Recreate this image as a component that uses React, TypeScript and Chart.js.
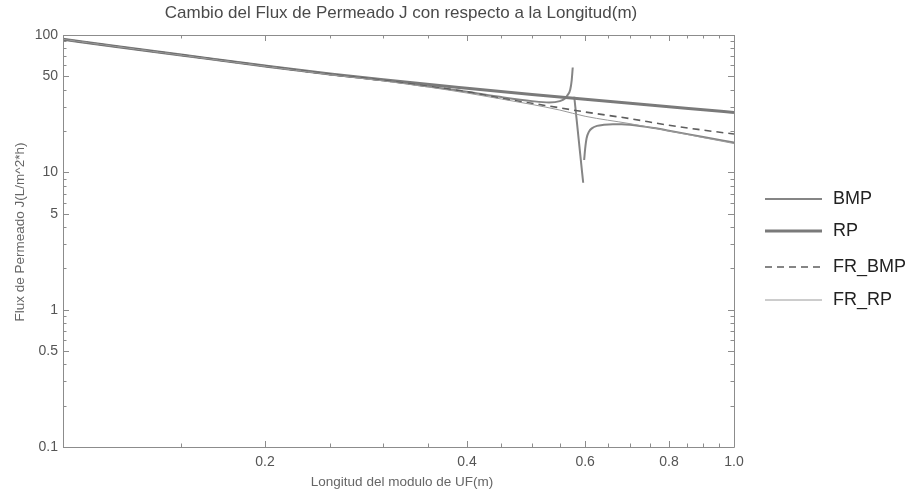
import React, { useEffect, useRef } from "react";
import { Chart, registerables } from "chart.js";

Chart.register(...registerables);

// ---- Data ----
const titleText = "Cambio del Flux de Permeado J con respecto a la Longitud(m)";
const xTitle = "Longitud del modulo de UF(m)";
const yTitle = "Flux de Permeado J(L/m^2*h)";

const seriesNames = ["BMP", "RP", "FR_BMP", "FR_RP"];

// BMP: three branches around the singularity near x ≈ 0.58
const bmpX1 = [0.1, 0.12, 0.15, 0.2, 0.25, 0.3, 0.35, 0.4, 0.45, 0.5, 0.53, 0.55, 0.56, 0.565, 0.57, 0.573, 0.575];
const bmpY1 = [93, 82.5, 71.5, 59.4, 51.8, 46.8, 42.3, 38.6, 35.3, 33.0, 32.3, 33.0, 34.5, 36.5, 40, 47, 58];
const bmpX2 = [0.578, 0.584, 0.59, 0.596];
const bmpY2 = [35.5, 21.9, 13.5, 8.4];
const bmpX3 = [0.598, 0.6, 0.603, 0.608, 0.614, 0.625, 0.64, 0.66, 0.68, 0.7, 0.76, 0.8, 0.9, 1.0];
const bmpY3 = [12.3, 14.8, 17.7, 19.8, 20.9, 21.8, 22.2, 22.4, 22.4, 22.2, 21.0, 20.1, 18.1, 16.5];

const rpX = [0.1, 0.12, 0.15, 0.2, 0.25, 0.3, 0.4, 0.5, 0.6, 0.7, 0.8, 0.9, 1.0];
const rpY = [93, 82.5, 71.5, 59.5, 52, 47.2, 41, 36.9, 34, 31.8, 30, 28.6, 27.3];

const frX = [0.1, 0.12, 0.15, 0.2, 0.25, 0.3, 0.35, 0.4, 0.45, 0.5, 0.55, 0.6, 0.7, 0.8, 0.9, 1.0];
const frBmpY = [93, 82.5, 71.5, 59.4, 51.7, 46.7, 42.3, 38.6, 34.6, 31.8, 29.5, 27.5, 24.6, 22.0, 20.3, 19.0];
const frRpY = [93, 82.4, 71.3, 59.2, 51.4, 46.3, 41.8, 37.8, 34.2, 31.2, 28.4, 25.6, 22.6, 20.0, 17.9, 16.2];

const xMajorTicks = [0.2, 0.4, 0.6, 0.8, 1.0];
const xMinorTicks = [0.1, 0.15, 0.25, 0.3, 0.35, 0.45, 0.5, 0.55, 0.65, 0.7, 0.75, 0.85, 0.9, 0.95];
const yMajorTicks = [0.1, 0.5, 1, 5, 10, 50, 100];
const yMinorTicks = [0.2, 0.3, 0.4, 0.6, 0.7, 0.8, 0.9, 2, 3, 4, 6, 7, 8, 9, 20, 30, 40, 60, 70, 80, 90];

const FONT = '"Liberation Sans", Arial, sans-serif';

function pts(xs: number[], ys: number[]) {
  return xs.map((x, i) => ({ x, y: ys[i] }));
}

const framePlugin = {
  id: "framePlugin",
  afterDraw(chart: any) {
    const { ctx, chartArea, scales } = chart;
    const { left, right, top, bottom } = chartArea;
    const xs = scales.x;
    const ys = scales.y;
    ctx.save();
    // frame
    ctx.strokeStyle = "#8c8c8c";
    ctx.lineWidth = 1;
    ctx.beginPath();
    ctx.rect(Math.round(left) + 0.5, Math.round(top) + 0.5, Math.round(right - left), Math.round(bottom - top));
    ctx.stroke();
    // ticks
    const drawX = (v: number, len: number) => {
      const px = Math.round(xs.getPixelForValue(v)) + 0.5;
      ctx.beginPath();
      ctx.moveTo(px, bottom);
      ctx.lineTo(px, bottom - len);
      ctx.moveTo(px, top);
      ctx.lineTo(px, top + len);
      ctx.stroke();
    };
    const drawY = (v: number, len: number) => {
      const py = Math.round(ys.getPixelForValue(v)) + 0.5;
      ctx.beginPath();
      ctx.moveTo(left, py);
      ctx.lineTo(left + len, py);
      ctx.moveTo(right, py);
      ctx.lineTo(right - len, py);
      ctx.stroke();
    };
    xMajorTicks.forEach((v) => drawX(v, 6));
    xMinorTicks.forEach((v) => drawX(v, 3.5));
    yMajorTicks.forEach((v) => drawY(v, 6));
    yMinorTicks.forEach((v) => drawY(v, 3.5));

    // titles
    ctx.fillStyle = "#4a4a4a";
    ctx.font = `17px ${FONT}`;
    ctx.textAlign = "center";
    ctx.textBaseline = "middle";
    ctx.fillText(titleText, 401, 13);

    ctx.fillStyle = "#666";
    ctx.font = `13.5px ${FONT}`;
    ctx.fillText(xTitle, 402, 482);
    ctx.save();
    ctx.translate(20, 232);
    ctx.rotate(-Math.PI / 2);
    ctx.fillText(yTitle, 0, 0);
    ctx.restore();

    // legend
    const legendY = [199, 231, 267, 300];
    chart.data.datasets.forEach((ds: any, i: number) => {
      const y = legendY[i];
      ctx.save();
      ctx.strokeStyle = ds.borderColor;
      ctx.lineWidth = ds.borderWidth;
      ctx.setLineDash(ds.borderDash || []);
      ctx.beginPath();
      ctx.moveTo(765, y);
      ctx.lineTo(822, y);
      ctx.stroke();
      ctx.restore();
      ctx.fillStyle = "#222";
      ctx.font = `18px ${FONT}`;
      ctx.textAlign = "left";
      ctx.textBaseline = "middle";
      ctx.fillText(ds.label, 833, y);
    });
    ctx.restore();
  },
};

export default function App() {
  const ref = useRef<HTMLCanvasElement | null>(null);
  useEffect(() => {
    if (!ref.current) return;
    const bmpData = [
      ...pts(bmpX1, bmpY1),
      { x: 0.5765, y: null as any },
      ...pts(bmpX2, bmpY2),
      { x: 0.597, y: null as any },
      ...pts(bmpX3, bmpY3),
    ];
    const chart = new Chart(ref.current, {
      type: "line",
      data: {
        datasets: [
          {
            label: seriesNames[0],
            data: bmpData,
            borderColor: "#858585",
            borderWidth: 2,
            pointRadius: 0,
            cubicInterpolationMode: "monotone",
            spanGaps: false,
            order: 4,
          },
          {
            label: seriesNames[1],
            data: pts(rpX, rpY),
            borderColor: "#7a7a7a",
            borderWidth: 3,
            pointRadius: 0,
            cubicInterpolationMode: "monotone",
            order: 3,
          },
          {
            label: seriesNames[2],
            data: pts(frX, frBmpY),
            borderColor: "#5e5e5e",
            borderWidth: 1.6,
            borderDash: [7, 5],
            pointRadius: 0,
            cubicInterpolationMode: "monotone",
            order: 2,
          },
          {
            label: seriesNames[3],
            data: pts(frX, frRpY),
            borderColor: "#9a9a9a",
            borderWidth: 1,
            pointRadius: 0,
            cubicInterpolationMode: "monotone",
            order: 1,
          },
        ] as any,
      },
      options: {
        animation: false,
        responsive: false,
        parsing: true,
        layout: { padding: { left: 0, top: 35, right: 177, bottom: 0 } },
        plugins: {
          legend: { display: false },
          title: { display: false },
          tooltip: { enabled: false },
        },
        scales: {
          x: {
            type: "logarithmic",
            min: 0.1,
            max: 1,
            grid: { display: false, drawTicks: false },
            border: { display: false },
            afterBuildTicks: (s: any) => {
              s.ticks = xMajorTicks.map((v) => ({ value: v }));
            },
            afterFit: (s: any) => {
              s.height = 46;
            },
            ticks: {
              autoSkip: false,
              maxRotation: 0,
              padding: 7,
              color: "#555",
              font: { family: FONT, size: 14 },
              callback: (v: any) => Number(v).toFixed(1),
            },
          },
          y: {
            type: "logarithmic",
            min: 0.1,
            max: 100,
            grid: { display: false, drawTicks: false },
            border: { display: false },
            afterBuildTicks: (s: any) => {
              s.ticks = yMajorTicks.map((v) => ({ value: v }));
            },
            afterFit: (s: any) => {
              s.width = 63;
            },
            ticks: {
              autoSkip: false,
              padding: 5,
              color: "#555",
              font: { family: FONT, size: 14 },
              callback: (v: any) => String(v),
            },
          },
        },
      } as any,
      plugins: [framePlugin],
    });
    return () => chart.destroy();
  }, []);
  return (
    <div style={{ position: "fixed", left: 0, top: 0, width: 911, height: 493, background: "#fff" }}>
      <canvas ref={ref} width={911} height={493} style={{ width: 911, height: 493 }} />
    </div>
  );
}
